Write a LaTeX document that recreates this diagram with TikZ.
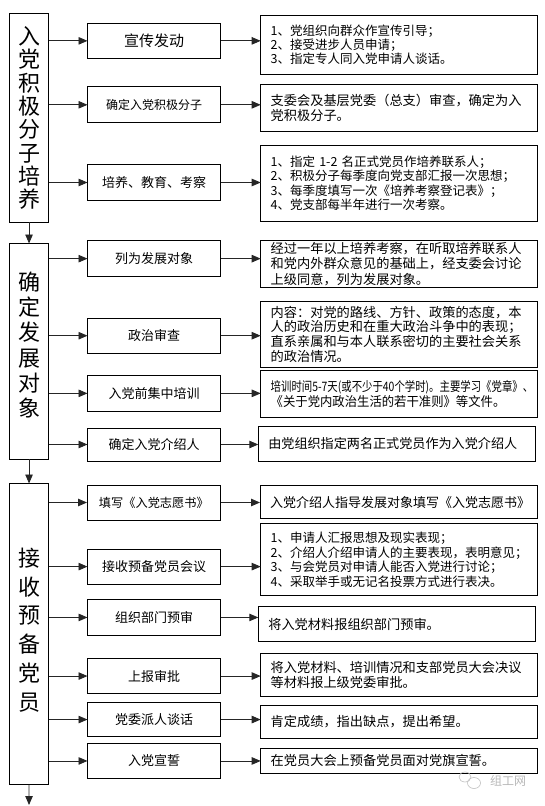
\documentclass[tikz,border=0pt]{standalone}
\usepackage{fontspec}
\setmainfont{Noto Sans CJK SC}
\usepackage{graphicx}
\usetikzlibrary{arrows.meta}
\newcommand\MB[7]{%
 \pgfmathsetmacro\myBW{#5-#3}\pgfmathsetmacro\myBH{#6-#4}%
 \pgfmathsetmacro\myCX{(#3+#5)/2}\pgfmathsetmacro\myCY{(#4+#6)/2}%
 \pgfmathsetmacro\myTW{#5-#3-6}%
 \node[#1, minimum width=\myBW pt, minimum height=\myBH pt, text width=\myTW pt] (#2) at (\myCX,\myCY) {#7};}
\newcommand\RB[7]{%
 \pgfmathsetmacro\myBW{#5-#3}\pgfmathsetmacro\myBH{#6-#4}%
 \pgfmathsetmacro\myCX{(#3+#5)/2}\pgfmathsetmacro\myCY{(#4+#6)/2}%
 \pgfmathsetmacro\myTW{#5-#3-20}%
 \node[#1, minimum width=\myBW pt, minimum height=\myBH pt, text width=\myTW pt] (#2) at (\myCX,\myCY) {#7};}
\begin{document}
\begin{tikzpicture}[x=1pt,y=-1pt,
  bx/.style={draw=black, line width=1pt, inner sep=0pt, outer sep=0pt},
  mid/.style={bx, font=\fontsize{13}{15}\selectfont, align=center},
  rt/.style={bx, font=\fontsize{12.5}{14.5}\selectfont, align=left},
  para/.style={bx, font=\fontsize{13.2}{14.8}\selectfont, align=left},
  bigtxt/.style={inner sep=0pt, align=center},
  arr/.style={draw=black!85, line width=0.9pt, -{Triangle[length=9pt,width=7.5pt]}},
  wm/.style={text=black!28, inner sep=0pt, font=\fontsize{12}{12}\selectfont},
]
\useasboundingbox (0,0) rectangle (545,806);

% left stage boxes
\MB{bx}{L1}{9.4}{13.9}{48.7}{222}{}
\MB{bx}{L2}{9.4}{243.5}{48.7}{459}{}
\MB{bx}{L3}{9.4}{483.5}{48.7}{784.5}{}
\node[bigtxt, font=\fontsize{22}{23.3}\selectfont] (L1t) at (29,118) {入\\党\\积\\极\\分\\子\\培\\养};
\node[bigtxt, font=\fontsize{22}{25.3}\selectfont] (L2t) at (29,345) {确\\定\\发\\展\\对\\象};
\node[bigtxt, font=\fontsize{22}{28.7}\selectfont] (L3t) at (29,630) {接\\收\\预\\备\\党\\员};

% middle boxes
\MB{mid, font=\fontsize{15}{17}\selectfont}{M1}{87.5}{23.3}{220.7}{58.4}{宣传发动}
\MB{mid, font=\fontsize{12}{14}\selectfont}{M2}{87.5}{86.9}{220.7}{122.7}{确定入党积极分子}
\MB{mid}{M3}{87.5}{164.8}{220.7}{200.2}{培养、教育、考察}
\MB{mid}{M4}{87.5}{240.4}{220.7}{276.9}{列为发展对象}
\MB{mid}{M5}{87.5}{318}{220.7}{353.4}{政治审查}
\MB{mid}{M6}{87.5}{375.6}{220.7}{411.1}{入党前集中培训}
\MB{mid}{M7}{87.5}{428}{220.7}{461}{确定入党介绍人}
\MB{mid, font=\fontsize{12.2}{14}\selectfont}{M8}{87}{485}{220.7}{520}{填写《入党志愿书》}
\MB{mid}{M9}{87.5}{549.2}{220.7}{584}{接收预备党员会议}
\MB{mid}{M10}{87.5}{599.7}{220.7}{635.2}{组织部门预审}
\MB{mid}{M11}{87.5}{658.5}{220.7}{693.6}{上报审批}
\MB{mid}{M12}{87.5}{702.2}{220.7}{736.9}{党委派人谈话}
\MB{mid}{M13}{87.5}{743.9}{220.7}{778}{入党宣誓}

% right detail boxes
\RB{rt, font=\fontsize{12.5}{13.8}\selectfont}{R1}{260.7}{15.6}{537.7}{74}{1、党组织向群众作宣传引导；\\2、接受进步人员申请；\\3、指定专人同入党申请人谈话。}
\RB{para}{R2}{260.7}{84.5}{537.7}{131.4}{支委会及基层党委（总支）审查，确定为入\\党积极分子。}
\RB{rt}{R3}{260.7}{145.6}{537.7}{221}{1、指定 1-2 名正式党员作培养联系人；\\2、积极分子每季度向党支部汇报一次思想；\\3、每季度填写一次《培养考察登记表》；\\4、党支部每半年进行一次考察。}
\RB{para, font=\fontsize{13.2}{15.2}\selectfont}{R4}{260.7}{240.5}{537.7}{287.4}{经过一年以上培养考察，在听取培养联系人\\和党内外群众意见的基础上，经支委会讨论\\上级同意，列为发展对象。}
\RB{para}{R5}{260.7}{301.3}{537.7}{367}{内容：对党的路线、方针、政策的态度，本\\人的政治历史和在重大政治斗争中的表现；\\直系亲属和与本人联系密切的主要社会关系\\的政治情况。}
\RB{rt, font=\fontsize{13}{15}\selectfont}{R6}{260.7}{370.4}{537.7}{417.4}{\scalebox{0.8}[1]{培训时间5-7天(或不少于40个学时)。主要学习《党章》、}\\\scalebox{0.95}[1]{《关于党内政治生活的若干准则》等文件。}}
\RB{para, font=\fontsize{13.1}{14.8}\selectfont}{R7}{258.3}{426}{535.3}{461}{由党组织指定两名正式党员作为入党介绍人}
\RB{para, font=\fontsize{13}{14.8}\selectfont}{R8}{260}{485.6}{537}{518.7}{入党介绍人指导发展对象填写《入党志愿书》}
\RB{rt}{R9}{260.7}{523.9}{537.7}{595.2}{1、申请人汇报思想及现实表现；\\2、介绍人介绍申请人的主要表现，表明意见；\\3、与会党员对申请人能否入党进行讨论；\\4、采取举手或无记名投票方式进行表决。}
\RB{para}{R10}{258.3}{606.7}{535.3}{641.4}{将入党材料报组织部门预审。}
\RB{para}{R11}{260.7}{653.6}{537.7}{696.3}{将入党材料、培训情况和支部党员大会决议\\等材料报上级党委审批。}
\RB{para}{R12}{260.7}{705.6}{537.7}{738.3}{肯定成绩，指出缺点，提出希望。}
\RB{para}{R13}{260.7}{748.3}{537.7}{773.3}{在党员大会上预备党员面对党旗宣誓。}

% arrows: stage box -> step
\foreach \i/\s in {1/1,2/1,3/1,4/2,5/2,6/2,7/2,8/3,9/3,10/3,11/3,12/3,13/3}{
  \draw[arr] (L\s.east |- M\i.west) -- (M\i.west);
  \draw[arr] (M\i.east) -- (R\i.west |- M\i.east);
}
% arrows between stages
\coordinate (Lend) at (29,805);
\draw[arr] (L1.south) -- (L2.north);
\draw[arr] (L2.south) -- (L3.north);
\draw[arr] (L3.south) -- (Lend);

% watermark
\node[wm] (wmt) at (508,781) {组工网};
\draw[black!25, line width=0.6pt] (465,777) ellipse (6pt and 5pt);
\draw[black!25, line width=0.6pt] (474,783) ellipse (6.5pt and 5.5pt);
\end{tikzpicture}
\end{document}
